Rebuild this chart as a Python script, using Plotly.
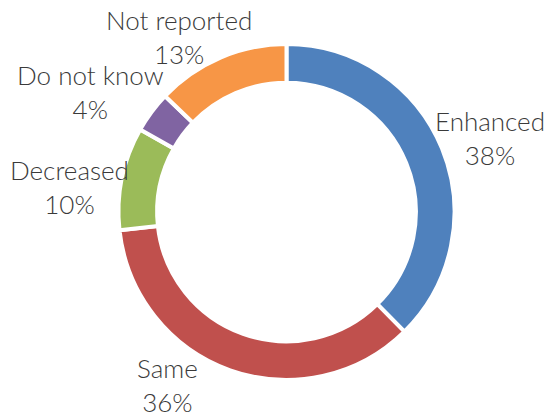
import plotly.graph_objects as go

labels = ["Enhanced", "Same", "Decreased", "Do not know", "Not reported"]
values = [38, 36, 10, 4, 13]
colors = ["#4F81BD", "#C0504D", "#9BBB59", "#8064A2", "#F79646"]
# label block centres in pixels (layout only)
label_px = [(490, 138), (167, 385), (69, 187), (90, 92), (179, 37)]

W, H = 550, 418
fig = go.Figure(go.Pie(
    labels=labels, values=values, sort=False, direction="clockwise", rotation=0,
    hole=0.77, textinfo="none", hoverinfo="label+percent",
    marker=dict(colors=colors, line=dict(color="white", width=4)),
    domain=dict(x=[118.5 / W, 454.5 / W], y=[1 - 380 / H, 1 - 44 / H]),
    showlegend=False,
))
for lab, val, (px, py) in zip(labels, values, label_px):
    fig.add_annotation(
        x=px / W, y=1 - py / H, xref="paper", yref="paper",
        text=f"{lab}<br>{val}%", showarrow=False, xanchor="center", yanchor="middle",
        borderpad=0,
        font=dict(family="Lato", size=26, color="#3a3a3a", weight=300), align="center",
    )
fig.update_layout(width=W, height=H, margin=dict(l=0, r=0, t=0, b=0),
                  paper_bgcolor="white", plot_bgcolor="white")
fig.write_html("out.html", config={"displayModeBar": False},
               post_script="document.body.style.margin='0';")
